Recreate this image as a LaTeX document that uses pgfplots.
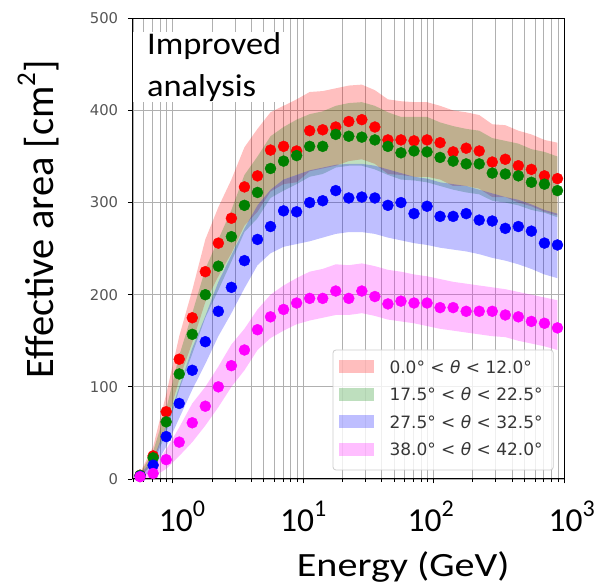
\documentclass[border=0pt]{standalone}
\usepackage{fontspec}
\setmainfont{Carlito}
\newfontfamily\dejavu{DejaVu Sans}
\usepackage{pgfplots}
\pgfplotsset{compat=1.18}
\usepackage{pgfplotstable}
\usepgfplotslibrary{fillbetween}
\definecolor{tickgray}{RGB}{85,85,85}
\definecolor{leggray}{RGB}{55,55,55}
\definecolor{gridgray}{RGB}{176,176,176}
\definecolor{mred}{RGB}{255,0,0}
\definecolor{mgreen}{RGB}{0,128,0}
\definecolor{mblue}{RGB}{0,0,255}
\definecolor{mmag}{RGB}{255,0,255}

\pgfplotstableread{
E r rlo rhi g glo ghi b blo bhi m mlo mhi
0.5623 4 2 7 4 2 6 3 1 5 2.5 0 6
0.7079 25 17 35 23 17 30 15 10 21 6 2 12
0.8913 73 58 92 62 50 76 46 35 58 21 11 32
1.1220 130 108 155 114 97 134 82 66 100 40 25 56
1.4125 175 148 205 157 136 180 118 97 142 61 40 82
1.7783 225 192 260 200 175 228 149 125 177 79 58 100
2.2387 256 220 295 231 205 260 182 155 214 100 78 122
2.8184 283 245 325 263 236 292 208 180 243 123 100 146
3.5481 317 275 360 297 268 330 237 207 272 140 118 163
4.4668 329 290 380 311 283 350 260 232 297 162 140 184
5.6234 357 312 398 337 305 372 274 245 314 176 153 200
7.0795 361 320 405 345 313 382 291 252 325 184 161 210
8.9125 356 322 412 351 320 390 290 255 330 191 168 218
11.220 378 334 420 361 328 396 300 258 335 196 172 225
14.125 379 337 421 361 331 399 302 262 338 196 175 228
17.783 382 340 424 374 338 405 313 266 341 204 178 233
22.387 388 345 427 372 340 408 305 268 342 196 178 232
28.184 390 347 428 371 340 409 306 268 342 204 180 234
35.481 382 342 422 368 336 405 305 266 340 198 177 231
44.668 368 331 412 361 330 398 297 262 336 190 173 227
56.234 368 330 410 354 325 393 300 259 332 193 171 225
70.795 367 328 409 356 324 393 288 256 328 191 169 222
89.125 368 328 409 355 322 393 296 254 326 191 166 220
112.20 365 325 405 349 318 387 285 251 322 186 163 217
141.25 355 318 400 345 314 383 285 249 320 186 161 214
177.83 359 318 398 342 311 380 288 247 318 182 159 212
223.87 356 315 395 342 309 378 281 244 314 182 157 210
281.84 344 306 385 332 302 370 280 240 310 182 155 208
354.81 347 306 384 331 300 367 272 237 306 178 154 206
446.68 340 300 378 329 297 364 274 233 303 176 150 203
562.34 336 296 374 322 292 358 269 228 298 171 147 200
707.95 329 290 368 320 289 355 256 222 292 169 144 197
891.25 326 286 365 313 284 350 254 218 288 164 140 194
}\data

\begin{document}
\begin{tikzpicture}[x=1pt,y=1pt]
\begin{axis}[
  at={(0pt,0pt)}, anchor=south west,
  scale only axis, width=431.7pt, height=460.7pt,
  xmode=log, xmin=0.49, xmax=1000, ymin=0, ymax=500,
  xtick={1,10,100,1000}, xticklabels={,,,},
  minor xtick={0.5,0.6,0.7,0.8,0.9,2,3,4,5,6,7,8,9,20,30,40,50,60,70,80,90,200,300,400,500,600,700,800,900},
  ytick={0,100,200,300,400,500}, yticklabels={0,100,200,300,400,500},
  yticklabel style={font=\dejavu\fontsize{14.8}{16}\selectfont, text=tickgray, inner sep=0pt, xshift=-9.5pt},
  tick pos=left, tick align=outside,
  major tick length=4.5pt, minor tick length=3pt,
  tick style={black, line width=0.8pt},
  grid=both,
  major grid style={gridgray, line width=0.8pt},
  minor grid style={gridgray, line width=0.8pt},
  axis line style={black, line width=1pt},
]
% bands
\addplot[name path=rhi, draw=none, forget plot] table[x=E, y=rhi] {\data};
\addplot[name path=rlo, draw=none, forget plot] table[x=E, y=rlo] {\data};
\addplot[fill=mred, fill opacity=0.25, draw=none, forget plot] fill between[of=rhi and rlo];
\addplot[name path=ghi, draw=none, forget plot] table[x=E, y=ghi] {\data};
\addplot[name path=glo, draw=none, forget plot] table[x=E, y=glo] {\data};
\addplot[fill=mgreen, fill opacity=0.25, draw=none, forget plot] fill between[of=ghi and glo];
\addplot[name path=bhi, draw=none, forget plot] table[x=E, y=bhi] {\data};
\addplot[name path=blo, draw=none, forget plot] table[x=E, y=blo] {\data};
\addplot[fill=mblue, fill opacity=0.25, draw=none, forget plot] fill between[of=bhi and blo];
\addplot[name path=mhi, draw=none, forget plot] table[x=E, y=mhi] {\data};
\addplot[name path=mlo, draw=none, forget plot] table[x=E, y=mlo] {\data};
\addplot[fill=mmag, fill opacity=0.25, draw=none, forget plot] fill between[of=mhi and mlo];
% points
\addplot[only marks, mark=*, mark size=5.5pt, color=mred, forget plot] table[x=E, y=r] {\data};
\addplot[only marks, mark=*, mark size=5.5pt, color=mgreen, forget plot] table[x=E, y=g] {\data};
\addplot[only marks, mark=*, mark size=5.5pt, color=mblue, forget plot] table[x=E, y=b] {\data};
\addplot[only marks, mark=*, mark size=5.5pt, color=mmag, forget plot] table[x=E, y=m] {\data};
\end{axis}
% legend (drawn by hand for exact geometry)
\fill[white, fill opacity=0.8] (200.7,9) [rounded corners=3pt] rectangle (421,129);
\draw[black!20, line width=0.8pt, rounded corners=3pt] (200.7,9) rectangle (421,129);
\begin{scope}[font=\dejavu\fontsize{17}{17}\selectfont, text=leggray]
\fill[mred, fill opacity=0.25] (206.5,105.5) rectangle (241.8,118.5);
\node[anchor=base west, inner sep=0pt] at (257,105.8) {0.0° < \textit{θ} < 12.0°};
\fill[mgreen, fill opacity=0.25] (206.5,78) rectangle (241.8,91);
\node[anchor=base west, inner sep=0pt] at (257,78.3) {17.5° < \textit{θ} < 22.5°};
\fill[mblue, fill opacity=0.25] (206.5,50.5) rectangle (241.8,63.5);
\node[anchor=base west, inner sep=0pt] at (257,50.8) {27.5° < \textit{θ} < 32.5°};
\fill[mmag, fill opacity=0.25] (206.5,23) rectangle (241.8,36);
\node[anchor=base west, inner sep=0pt] at (257,23.3) {38.0° < \textit{θ} < 42.0°};
\end{scope}
% text box
\fill[white] (1,377) rectangle (153,447);
\node[anchor=base west, inner sep=0pt] at (14.6,424) {\scalebox{1.09}[1]{\fontsize{31.6}{36}\selectfont Improved}};
\node[anchor=base west, inner sep=0pt] at (14.6,382.3) {\scalebox{1.09}[1]{\fontsize{31.6}{36}\selectfont analysis}};
% x tick labels
\node[anchor=base west, inner sep=0pt] at (26.3,-52.7) {\fontsize{33.5}{36}\selectfont 10\raisebox{0.45em}{\fontsize{24}{24}\selectfont 0}};
\node[anchor=base west, inner sep=0pt] at (147.7,-52.7) {\fontsize{33.5}{36}\selectfont 10\raisebox{0.45em}{\fontsize{24}{24}\selectfont 1}};
\node[anchor=base west, inner sep=0pt] at (275.1,-52.7) {\fontsize{33.5}{36}\selectfont 10\raisebox{0.45em}{\fontsize{24}{24}\selectfont 2}};
\node[anchor=base west, inner sep=0pt] at (416.1,-52.7) {\fontsize{33.5}{36}\selectfont 10\raisebox{0.45em}{\fontsize{24}{24}\selectfont 3}};
% axis labels
\node[anchor=base west, inner sep=0pt] at (164.4,-97.7) {\scalebox{1.18}[1]{\fontsize{34}{40}\selectfont Energy (GeV)}};
\node[rotate=90, anchor=base west, inner sep=0pt] at (-79,100.7) {\fontsize{40.5}{42}\selectfont Effective area [cm\raisebox{0.45em}{\fontsize{27}{27}\selectfont 2}]};
\pgfresetboundingbox
\path[use as bounding box] (-132.3,-109) rectangle (480.7,479);
\end{tikzpicture}
\end{document}
